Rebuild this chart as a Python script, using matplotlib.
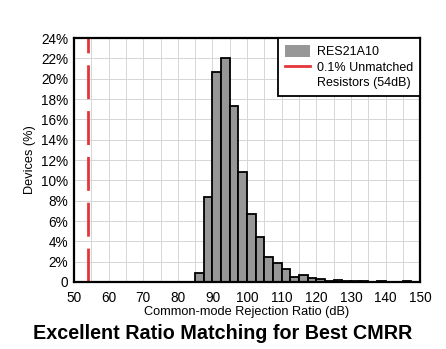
"""CMRR distribution histogram for the RES21A10 resistor network."""

import matplotlib
matplotlib.use("Agg")
import matplotlib.pyplot as plt
from matplotlib.patches import Patch
from matplotlib.lines import Line2D
import numpy as np

# histogram bins (dB, left edges, 2.5 dB wide) and share of devices (%)
bin_left = [85.0, 87.5, 90.0, 92.5, 95.0, 97.5, 100.0, 102.5, 105.0, 107.5,
            110.0, 112.5, 115.0, 117.5, 120.0, 122.5, 125.0, 127.5, 130.0,
            132.5, 135.0, 137.5, 140.0, 142.5, 145.0, 147.5]
devices_pct = [0.9, 8.35, 20.7, 22.0, 17.3, 10.85, 6.7, 4.45, 2.5, 1.9,
               1.25, 0.52, 0.68, 0.4, 0.25, 0.08, 0.17, 0.07, 0.1,
               0.05, 0.03, 0.05, 0.03, 0.03, 0.1, 0.02]
bin_width = 2.5

unmatched_cmrr = 54  # dB, 0.1% unmatched resistors

xticks = list(range(50, 151, 10))
yticks = list(range(0, 25, 2))
ytick_labels = ["0"] + [f"{v}%" for v in yticks[1:]]

plt.rcParams["font.family"] = ["Liberation Sans", "DejaVu Sans"]

fig = plt.figure(figsize=(4.46, 3.49), dpi=100)
ax = fig.add_axes([0.166, 0.192, 0.776, 0.699])

red = "#e3363a"
ax.bar(bin_left, devices_pct, width=bin_width, align="edge",
       color="#979797", edgecolor="black", linewidth=1.3, zorder=3)
ax.axvline(unmatched_cmrr, color=red, linewidth=2.0,
           dashes=(12.2, 4.3), zorder=4)

ax.set_xlim(50, 150)
ax.set_ylim(0, 24)
ax.set_xticks(xticks)
ax.set_xticks(np.arange(50, 151, 5), minor=True)
ax.set_yticks(yticks)
ax.set_yticklabels(ytick_labels)
ax.tick_params(which="both", length=0, labelsize=9.8)
ax.tick_params(axis="x", pad=6.5)
ax.tick_params(axis="y", pad=4)
ax.grid(True, which="both", color="#d6d6d6", linewidth=0.7, zorder=0)

for s in ax.spines.values():
    s.set_linewidth(1.6)
    s.set_zorder(5)

ax.set_xlabel("Common-mode Rejection Ratio (dB)", fontsize=9.2, labelpad=0.5)
ax.set_ylabel("Devices (%)", fontsize=9.2, labelpad=4)

# second legend row carries the red line, third row is the label's second line
handles = [Patch(facecolor="#979797", edgecolor="none"),
           Line2D([0], [0], color=red, linewidth=2.0),
           Line2D([0], [0], color="none")]
labels = ["RES21A10", "0.1% Unmatched", "Resistors (54dB)"]
leg = ax.legend(handles, labels, loc="upper right", fontsize=9.0,
                frameon=True, fancybox=False, framealpha=1, borderaxespad=0,
                handlelength=2.0, handleheight=1.05, handletextpad=0.6,
                labelspacing=0.2, borderpad=0.55)
leg.get_frame().set_edgecolor("black")
leg.get_frame().set_linewidth(1.3)
leg.set_zorder(6)

fig.text(0.5, 0.045, "Excellent Ratio Matching for Best CMRR",
         ha="center", va="center", fontsize=14.2, fontweight="bold")

fig.savefig("out.png", dpi=100)
